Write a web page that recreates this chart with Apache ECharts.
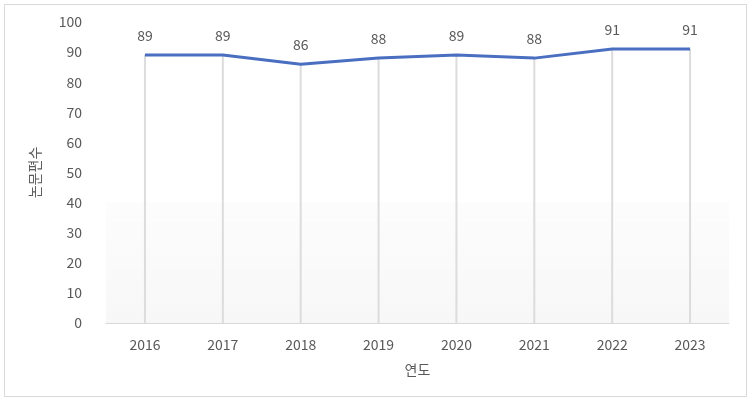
<!DOCTYPE html>
<html>
<head>
<meta charset="utf-8">
<script src="https://cdn.jsdelivr.net/npm/echarts@6/dist/echarts.min.js"></script>
<style>
html,body{margin:0;padding:0;background:#fff;}
#frame{position:absolute;left:4px;top:4px;width:741px;height:391px;border:1px solid #d9d9d9;}
#chart{position:absolute;left:0;top:0;width:751px;height:400px;}
</style>
</head>
<body>
<div id="frame"></div>
<div id="chart"></div>
<script>
const categories = ['2016','2017','2018','2019','2020','2021','2022','2023'];
const values = [89, 89, 86, 88, 89, 88, 91, 91];
const yTicks = [0, 10, 20, 30, 40, 50, 60, 70, 80, 90, 100];

const chart = echarts.init(document.getElementById('chart'), null, {renderer: 'canvas'});
const font = '"Noto Sans CJK KR", "Noto Sans", sans-serif';
chart.setOption({
  animation: false,
  grid: {left: 106, right: 22, top: 22, bottom: 77},
  xAxis: {
    type: 'category',
    data: categories,
    boundaryGap: true,
    name: '연도',
    nameLocation: 'middle',
    nameGap: 40,
    nameTextStyle: {color: '#595959', fontSize: 14, fontFamily: font},
    axisLine: {show: true, lineStyle: {color: '#d9d9d9', width: 1}},
    axisTick: {show: false},
    axisLabel: {color: '#595959', fontSize: 14, margin: 15, fontFamily: font}
  },
  yAxis: {
    type: 'value',
    min: yTicks[0],
    max: yTicks[yTicks.length - 1],
    interval: 10,
    name: '논문편수',
    nameLocation: 'middle',
    nameGap: 64,
    nameRotate: 90,
    nameTextStyle: {color: '#595959', fontSize: 14, fontFamily: font},
    axisLine: {show: false},
    axisTick: {show: false},
    splitLine: {show: false},
    axisLabel: {color: '#595959', fontSize: 14, margin: 24, fontFamily: font}
  },
  series: [
    {
      type: 'bar',
      data: values,
      barWidth: 2,
      itemStyle: {color: '#dcdcdc'},
      label: {show: true, position: 'top', distance: 12, color: '#595959', fontSize: 14, fontFamily: font},
      markArea: {
        silent: true,
        itemStyle: {
          color: {type: 'linear', x: 0, y: 0, x2: 0, y2: 1,
            colorStops: [{offset: 0, color: 'rgba(246,246,246,0.3)'}, {offset: 1, color: 'rgba(244,244,244,0.7)'}]}
        },
        data: [[{yAxis: 0}, {yAxis: 40}]]
      },
      z: 1
    },
    {
      type: 'line',
      data: values,
      symbol: 'none',
      lineStyle: {color: '#4a6fc1', width: 3},
      z: 3
    }
  ]
});
</script>
</body>
</html>
